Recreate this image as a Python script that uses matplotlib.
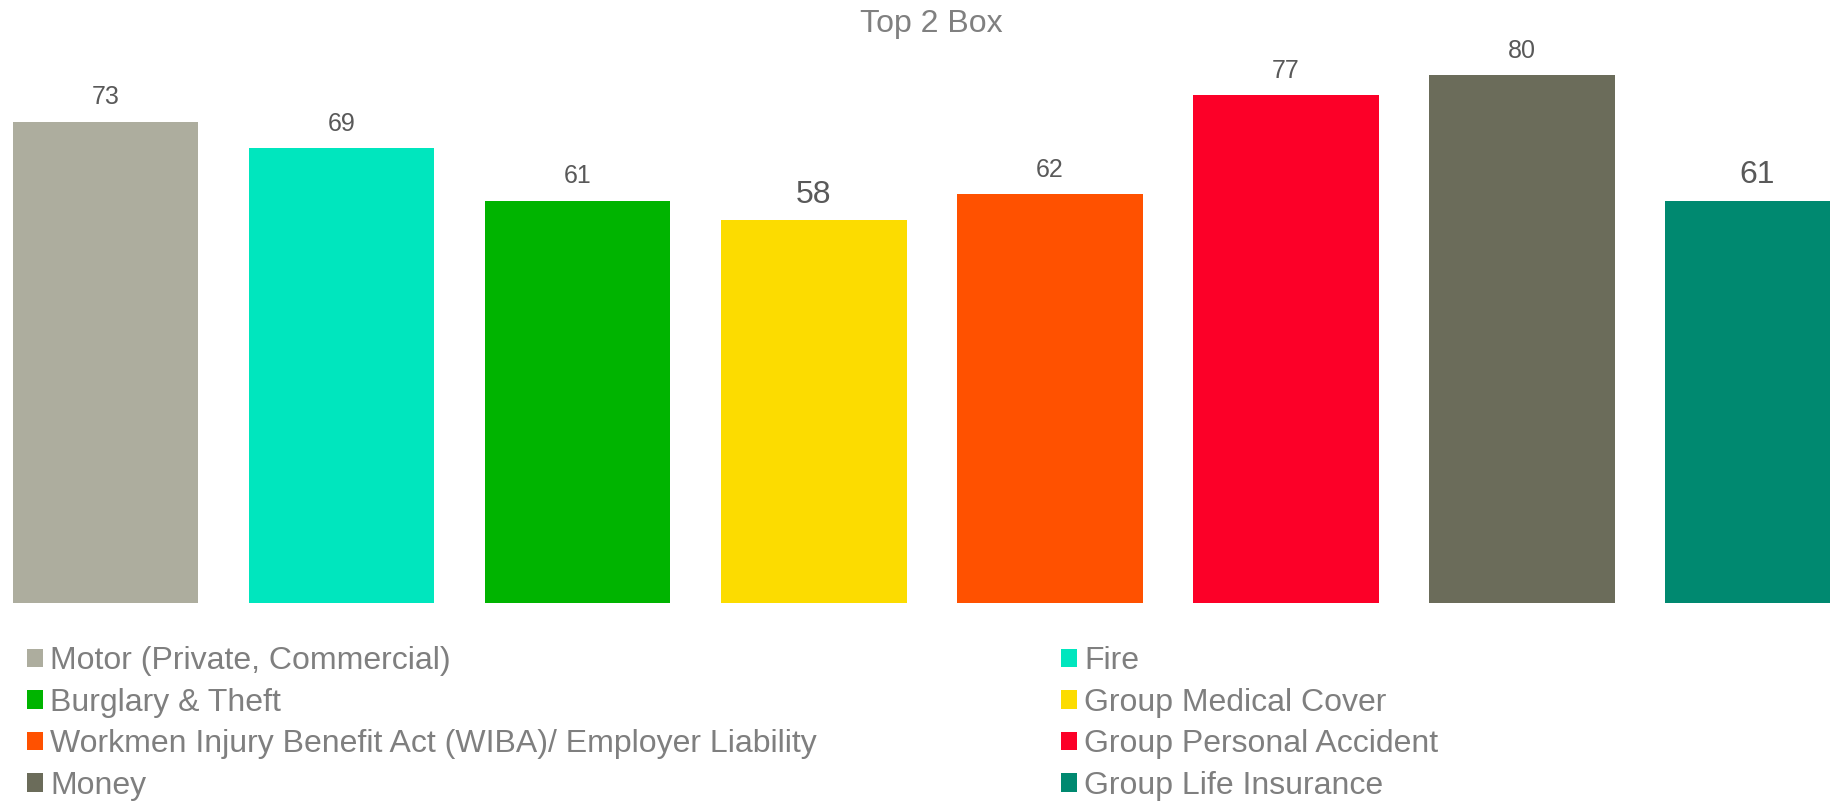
import matplotlib.pyplot as plt
from matplotlib.patches import Patch

plt.rcParams['font.family'] = ['Liberation Sans', 'DejaVu Sans']

# Top 2 Box scores per insurance product
categories = ['Motor (Private, Commercial)', 'Fire', 'Burglary & Theft',
              'Group Medical Cover', 'Workmen Injury Benefit Act (WIBA)/ Employer Liability',
              'Group Personal Accident', 'Money', 'Group Life Insurance']
scores = [73, 69, 61, 58, 62, 77, 80, 61]
bar_colors = ['#ADAD9E', '#00E6BE', '#00B400', '#FCDC00',
              '#FF5100', '#FC0028', '#6B6C5A', '#008970']
# a couple of the data labels are set larger
label_sizes = [18, 18, 18, 23, 18, 18, 18, 23]

fig = plt.figure(figsize=(18.3, 8.01), dpi=100)
ax = fig.add_axes([0, 0.2478, 1, 0.677])

x = range(len(categories))
bars = ax.bar(x, scores, width=0.788, color=bar_colors, linewidth=0)

for rect, val, fs in zip(bars, scores, label_sizes):
    ax.annotate(f'{val}', (rect.get_x() + rect.get_width() / 2, val),
                xytext=(0, 12.5), textcoords='offset points',
                ha='center', va='baseline', fontsize=fs, color='#595959',
                annotation_clip=False)

ax.set_xlim(-0.447, 7.307)
ax.set_ylim(0, 82.3)
ax.axis('off')

fig.text(0.5087, 0.9604, 'Top 2 Box', ha='center', va='baseline',
         fontsize=23, color='#808080')

# legend filled row by row: reorder so the two columns read left-right
handles = [Patch(facecolor=c, edgecolor='none') for c in bar_colors]
order = [0, 2, 4, 6, 1, 3, 5, 7]
fig.legend([handles[i] for i in order], [categories[i] for i in order],
           ncol=2, loc='upper left', bbox_to_anchor=(0.0148, 0.193),
           frameon=False, fontsize=23, labelcolor='#7F7F7F',
           handlelength=0.5, handleheight=0.5, handletextpad=0.22,
           columnspacing=7.64, labelspacing=0.36, borderpad=0, borderaxespad=0)

fig.savefig('out.png', dpi=100)
